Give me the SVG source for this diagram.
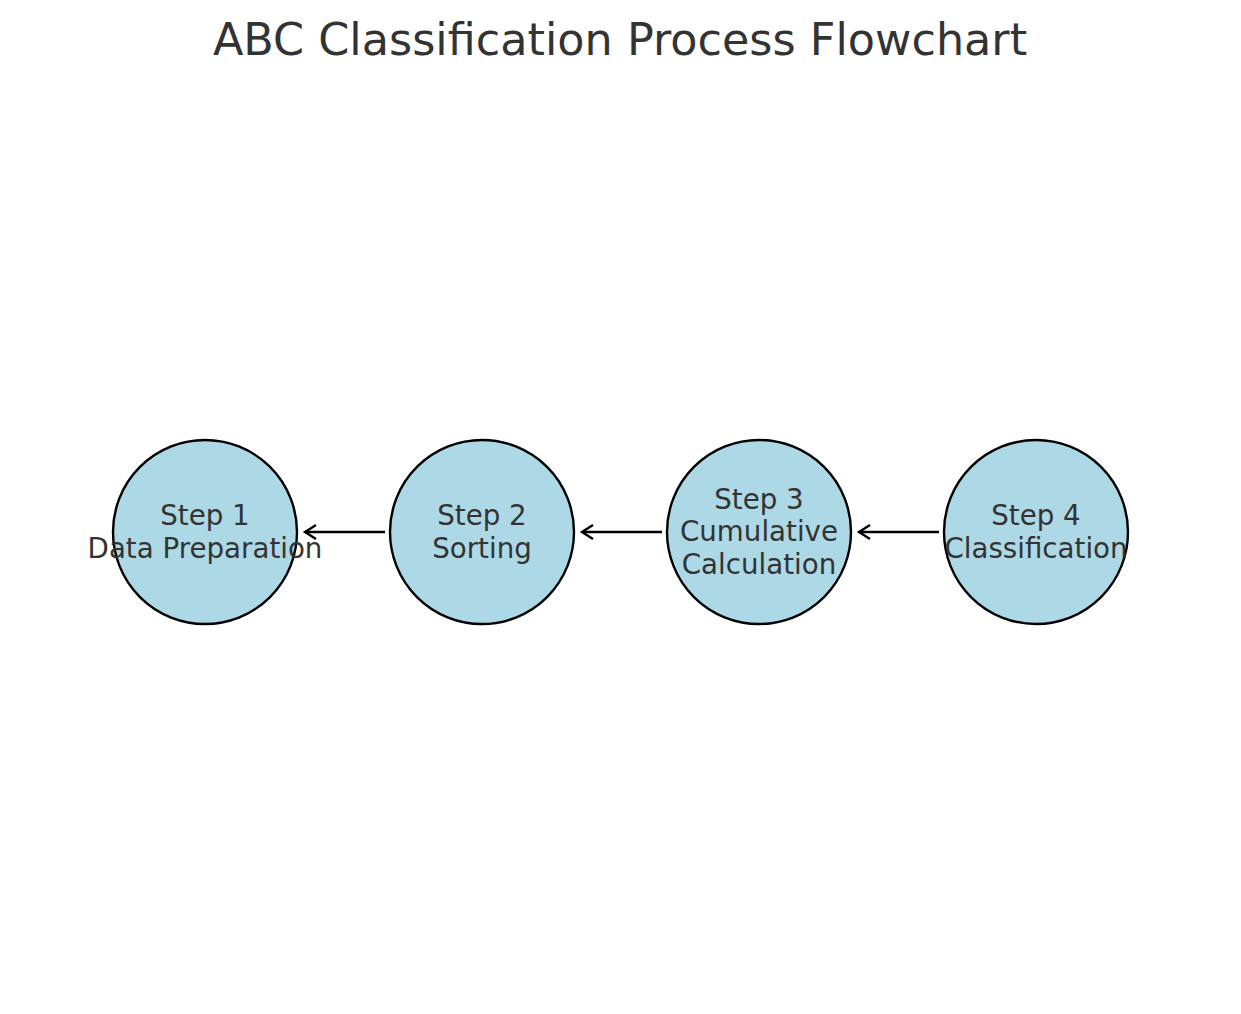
<svg xmlns="http://www.w3.org/2000/svg" width="1241" height="1014" viewBox="0 0 1241 1014">
<style>
.node{fill:#add8e6;stroke:#000;stroke-width:2.4}
.lbl{font-family:"DejaVu Sans",sans-serif;font-size:27.7px;fill:#333;text-anchor:middle}
.title{font-family:"DejaVu Sans",sans-serif;font-size:44.5px;fill:#333;text-anchor:middle}
.edge{stroke:#000;stroke-width:2.4;fill:none}
</style>
<defs>
<marker id="ah" markerWidth="16" markerHeight="18" refX="13" refY="9" orient="auto" markerUnits="userSpaceOnUse">
<path d="M2,2 L13,9 L2,16" fill="none" stroke="#000" stroke-width="2.4"/>
</marker>
</defs>
<rect width="1241" height="1014" fill="#fff"/>
<text class="title" x="620" y="55">ABC Classification Process Flowchart</text>
<g id="connectors">
<line class="edge" x1="385" y1="532" x2="305" y2="532" marker-end="url(#ah)"/>
<line class="edge" x1="662" y1="532" x2="582" y2="532" marker-end="url(#ah)"/>
<line class="edge" x1="939" y1="532" x2="859" y2="532" marker-end="url(#ah)"/>
</g>
<g id="step1">
<circle class="node" cx="205" cy="532" r="92"/>
<text class="lbl" x="205" y="525">Step 1</text>
<text class="lbl" x="205" y="558">Data Preparation</text>
</g>
<g id="step2">
<circle class="node" cx="482" cy="532" r="92"/>
<text class="lbl" x="482" y="525">Step 2</text>
<text class="lbl" x="482" y="558">Sorting</text>
</g>
<g id="step3">
<circle class="node" cx="759" cy="532" r="92"/>
<text class="lbl" x="759" y="509">Step 3</text>
<text class="lbl" x="759" y="541">Cumulative</text>
<text class="lbl" x="759" y="574">Calculation</text>
</g>
<g id="step4">
<circle class="node" cx="1036" cy="532" r="92"/>
<text class="lbl" x="1036" y="525">Step 4</text>
<text class="lbl" x="1036" y="558">Classification</text>
</g>
</svg>
